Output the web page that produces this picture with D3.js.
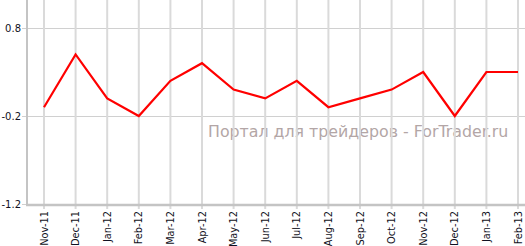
<!DOCTYPE html>
<html>
<head>
<meta charset="utf-8">
<script src="https://cdn.jsdelivr.net/npm/d3@7"></script>
<style>
  body { margin: 0; background: #fff; }
  svg { display: block; }
</style>
</head>
<body>
<div id="chart"></div>
<script>
const months = ["Nov-11", "Dec-11", "Jan-12", "Feb-12", "Mar-12", "Apr-12", "May-12", "Jun-12",
                "Jul-12", "Aug-12", "Sep-12", "Oct-12", "Nov-12", "Dec-12", "Jan-13", "Feb-13"]
const values = [-0.1, 0.5, 0.0, -0.2, 0.2, 0.4, 0.1, 0.0,
                0.2, -0.1, 0.0, 0.1, 0.3, -0.2, 0.3, 0.3]
const yTicks = [0.8, -0.2, -1.2]
const watermark = "Портал для трейдеров - ForTrader.ru"

const width  = 525;
const height = 246;
const margin = {top: 0, bottom: 42, left: 27, right: 0};
const axisY = height - margin.bottom   // 204

const svg = d3.select("#chart")
    .append("svg")
    .attr("width", width)
    .attr("height", height)

const x = d3.scalePoint().domain(months).range([44, 518])
const y = d3.scaleLinear().domain([-1.2, 0.8]).range([axisY, 28])

// watermark sits under the grid
svg.append("text")
    .text(watermark)
    .attr("x", 208)
    .attr("y", 137)
    .attr("font-family", "DejaVu Sans, Verdana, sans-serif")
    .attr("font-size", 15.8)
    .attr("fill", "#b3a6a6")

// horizontal grid
svg.append("g")
    .selectAll("line")
    .data(yTicks)
    .join("line")
        .attr("x1", margin.left - 5)
        .attr("x2", width)
        .attr("y1", d => Math.round(y(d)) + 0.5)
        .attr("y2", d => Math.round(y(d)) + 0.5)
        .attr("stroke", "#d0d0d0")
        .attr("stroke-width", 1)

// vertical grid + ticks
svg.append("g")
    .selectAll("line")
    .data(months)
    .join("line")
        .attr("x1", d => x(d))
        .attr("x2", d => x(d))
        .attr("y1", 0)
        .attr("y2", axisY + 5)
        .attr("stroke", "#dadada")
        .attr("stroke-width", 2)

// axis lines
svg.append("line")
    .attr("x1", margin.left).attr("x2", margin.left)
    .attr("y1", 0).attr("y2", axisY + 1)
    .attr("stroke", "#c4c4c4").attr("stroke-width", 2)

svg.append("line")
    .attr("x1", margin.left - 1).attr("x2", width)
    .attr("y1", axisY + 1).attr("y2", axisY + 1)
    .attr("stroke", "#c4c4c4").attr("stroke-width", 2.5)

// y labels
svg.append("g")
    .selectAll("text")
    .data(yTicks)
    .join("text")
        .text(d => d.toFixed(1))
        .attr("x", 21)
        .attr("y", d => y(d) + 4)
        .attr("text-anchor", "end")
        .attr("font-family", "DejaVu Sans, Verdana, sans-serif")
        .attr("font-size", 10)
        .attr("fill", "#111122")

// x labels, rotated
svg.append("g")
    .selectAll("text")
    .data(months)
    .join("text")
        .text(d => d)
        .attr("transform", d => `translate(${x(d) + 3.5}, ${axisY + 7}) rotate(-90)`)
        .attr("text-anchor", "end")
        .attr("font-family", "DejaVu Sans, Verdana, sans-serif")
        .attr("font-size", 9.8)
        .attr("fill", "#111122")

// the line
const line = d3.line()
    .x((d, i) => x(months[i]))
    .y(d => y(d))

svg.append("path")
    .datum(values)
    .attr("d", line)
    .attr("fill", "none")
    .attr("stroke", "#ff0000")
    .attr("stroke-width", 2.2)
    .attr("stroke-linejoin", "miter")
</script>
</body>
</html>
